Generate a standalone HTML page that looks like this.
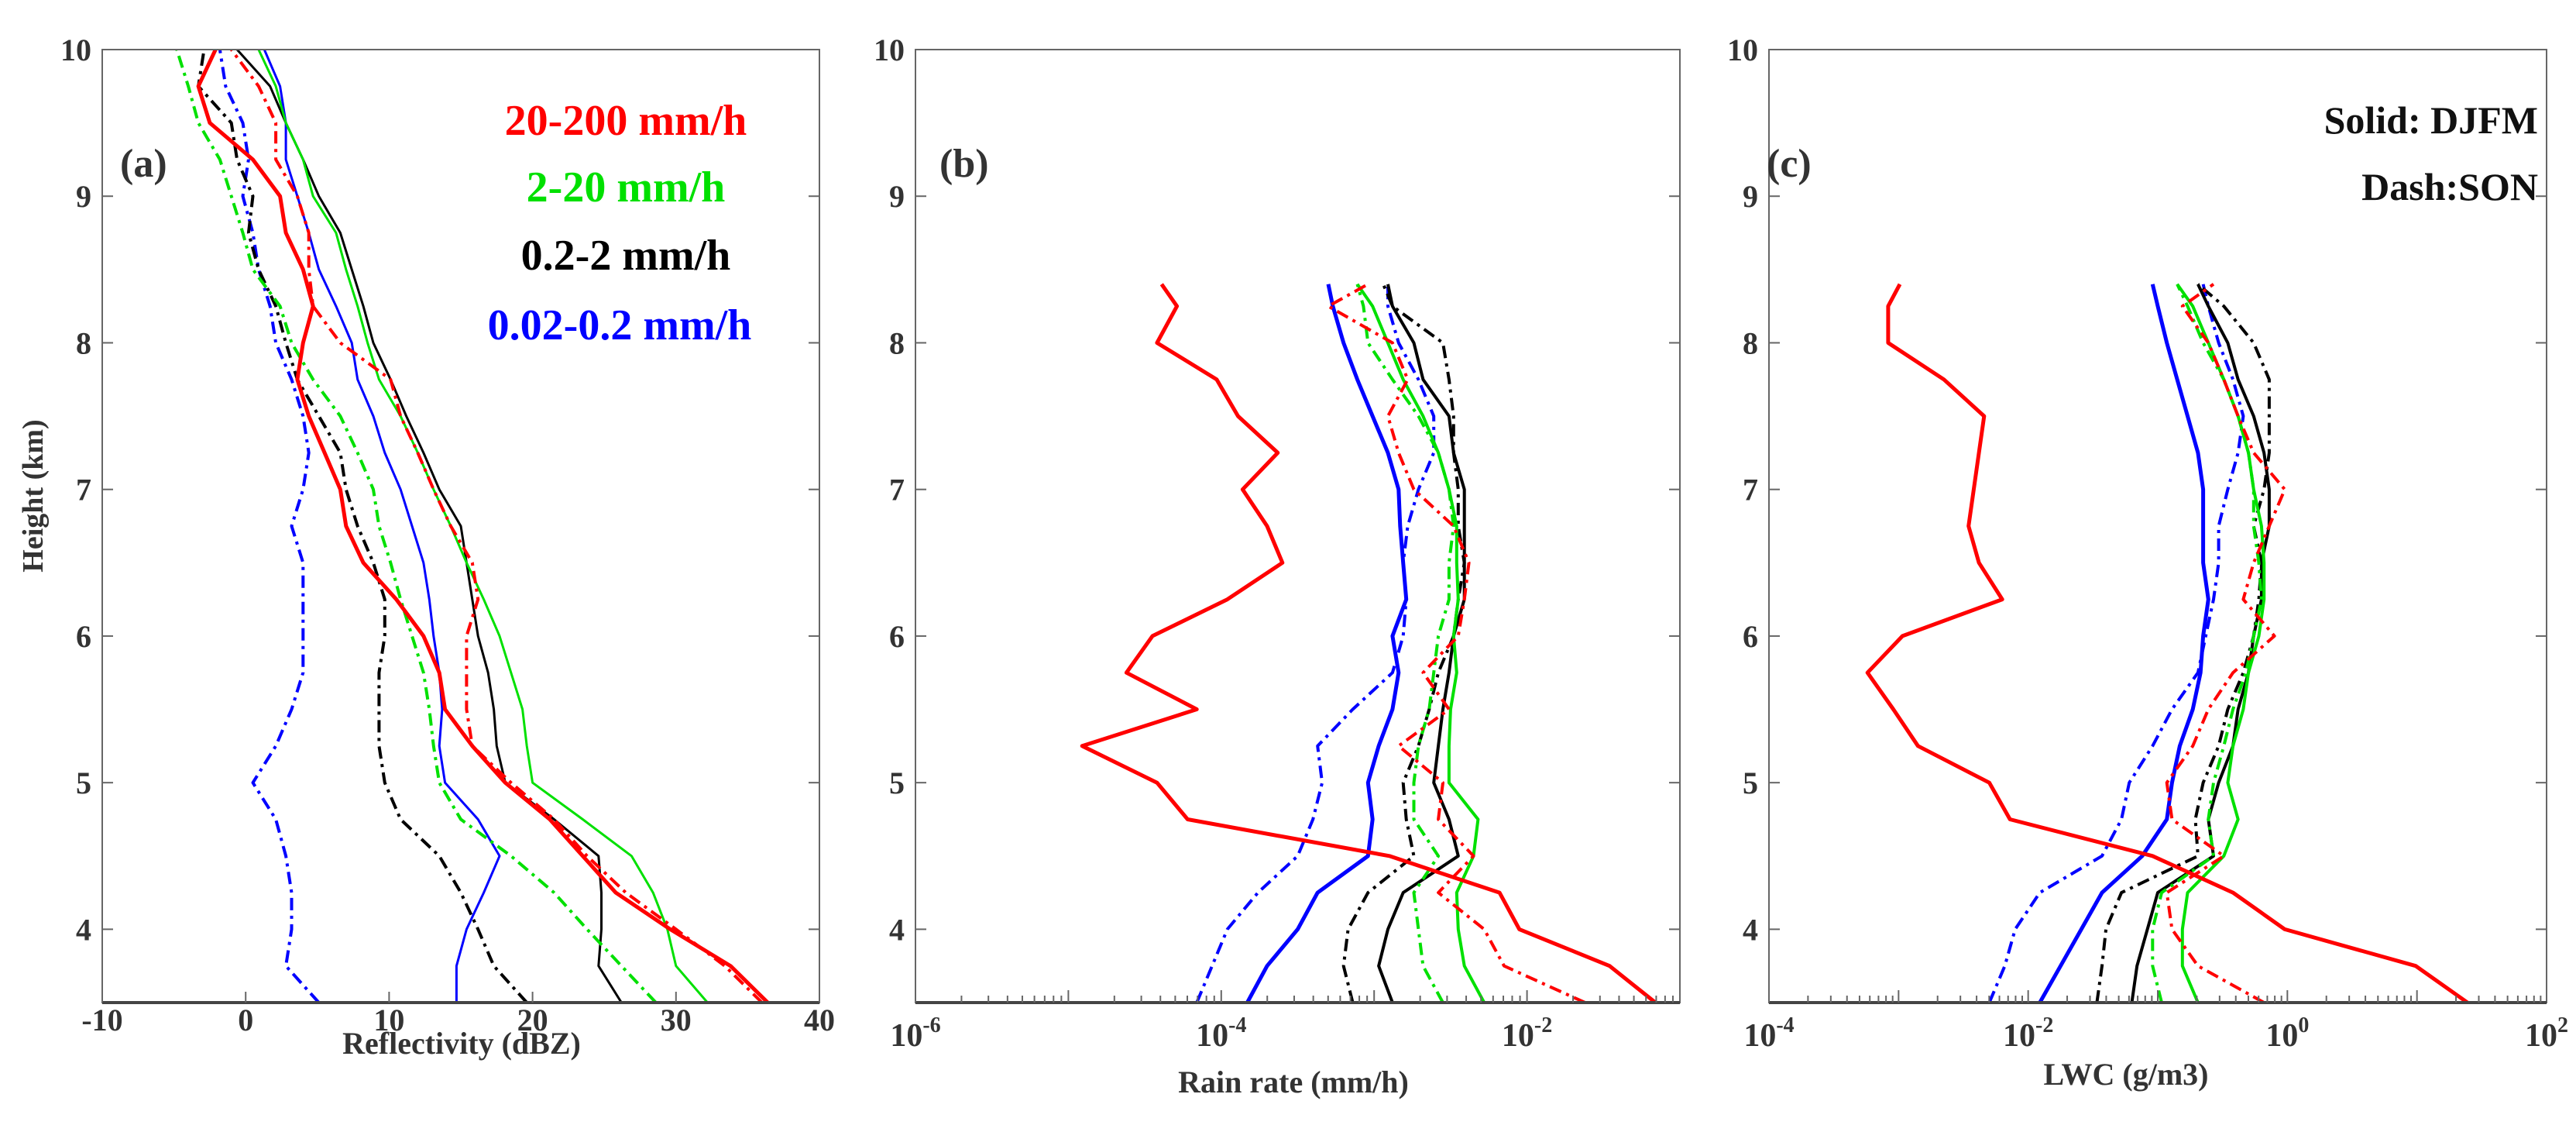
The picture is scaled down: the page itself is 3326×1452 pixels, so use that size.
<!DOCTYPE html>
<html><head><meta charset="utf-8"><style>
html,body{margin:0;padding:0;background:#fff;}
svg{display:block;}
text{font-family:"Liberation Serif","DejaVu Serif",serif;font-weight:bold;fill:#333;}
</style></head><body>
<svg id="fig" width="3326" height="1452" viewBox="0 0 3326 1452" xmlns="http://www.w3.org/2000/svg">
<g id="pa"></g>
<g id="pb"></g>
<g id="pc"></g>
<text x="155" y="228" font-size="52">(a)</text>
<text x="1213" y="228" font-size="52">(b)</text>
<text x="2281" y="228" font-size="52">(c)</text>
<g font-size="56" text-anchor="middle">
<text x="808" y="174" style="fill:#ff0000">20-200 mm/h</text>
<text x="808" y="260" style="fill:#00e000">2-20 mm/h</text>
<text x="808" y="348" style="fill:#000">0.2-2 mm/h</text>
<text x="800" y="438" style="fill:#0000ff">0.02-0.2 mm/h</text>
</g>
<text x="3277" y="172" font-size="50" text-anchor="end" style="fill:#111">Solid: DJFM</text>
<text x="3277" y="258" font-size="50" text-anchor="end" style="fill:#111">Dash:SON</text>
<text transform="translate(55,640) rotate(-90)" font-size="38" text-anchor="middle">Height (km)</text>
<text x="596" y="1360" font-size="40" text-anchor="middle">Reflectivity (dBZ)</text>
<text x="1670" y="1410" font-size="40" text-anchor="middle">Rain rate (mm/h)</text>
<text x="2745" y="1400" font-size="40" text-anchor="middle">LWC (g/m3)</text>
</svg>
<script>
// ---------- data ----------
const heightsA = [3.5,3.75,4,4.25,4.5,4.75,5,5.25,5.5,5.75,6,6.25,6.5,6.75,7,7.25,7.5,7.75,8,8.25,8.5,8.75,9,9.25,9.5,9.75,10];
const heightsBC = [3.5,3.75,4,4.25,4.5,4.75,5,5.25,5.5,5.75,6,6.25,6.5,6.75,7,7.25,7.5,7.75,8,8.25,8.4];
const yTicks = [4,5,6,7,8,9,10];
const xTicksA = [-10,0,10,20,30,40];
const xTicksB = [-6,-4,-2];
const xTicksC = [-4,-2,0,2];
// panel a: reflectivity (dBZ)
const refRedSolid = [36.4,33.8,29.6,25.8,23.5,21.2,18.1,15.8,13.9,13.5,12.4,10.5,8.2,7.0,6.6,5.5,4.4,3.6,4.0,4.7,4.0,2.8,2.4,0.5,-2.5,-3.3,-2.1];
const refRedDash = [36,33.4,30,26.5,23.8,21.5,18.5,15.8,15.4,15.4,15.4,16.2,15.8,14.3,13.1,12,10.8,10.1,6.6,4.7,4.4,4.4,3.6,2.1,2.1,0.9,-1];
const refBlackSolid = [26.2,24.6,24.8,24.8,24.6,21.5,18.1,17.5,17.3,16.9,16.2,15.8,15.4,15,13.5,12.4,11.2,10.1,8.9,8.2,7.4,6.6,5.1,4,2.8,1.7,-0.6];
const refBlackDash = [19.6,17.3,16.2,15,13.5,10.8,9.7,9.3,9.3,9.3,9.7,9.7,8.9,7.8,7.0,6.6,5.1,3.6,2.8,2.1,0.9,0.2,0.5,-0.6,-1,-3.3,-2.9];
const refGreenSolid = [32.2,30,29.4,28.4,26.9,23.5,20,19.6,19.3,18.5,17.7,16.6,15.4,14.3,13.1,12,10.8,9.3,8.5,7.8,7.0,6.3,4.7,4,2.8,2.1,0.9];
const refGreenDash = [28.6,26.2,23.8,21.5,18.5,15,13.5,13.1,12.8,12.4,11.6,10.8,10.1,9.3,8.9,7.8,6.6,4.7,3.2,2.4,0.5,-0.2,-1,-1.8,-3.3,-4,-4.8];
const refBlueSolid = [14.7,14.7,15.4,16.6,17.7,16.2,13.9,13.5,13.7,13.5,13.1,12.8,12.4,11.6,10.8,9.7,8.9,7.8,7.4,6.3,5.1,4.4,3.6,2.8,2.8,2.4,1.3];
const refBlueDash = [5.1,2.8,3.2,3.2,2.8,2.1,0.5,2.1,3.2,4,4,4,4,3.2,4,4.4,4,3.2,2.1,1.7,0.9,0.5,-0.2,0.2,-0.2,-1.4,-1.8];
// panel b: log10 rain rate (mm/h)
const rrRedSolid = [-1.16,-1.46,-2.05,-2.18,-2.9,-4.22,-4.42,-4.91,-4.16,-4.62,-4.45,-3.96,-3.6,-3.7,-3.86,-3.63,-3.89,-4.03,-4.42,-4.29,-4.39];
const rrRedDash = [-1.62,-2.15,-2.28,-2.58,-2.35,-2.58,-2.55,-2.84,-2.51,-2.68,-2.45,-2.41,-2.38,-2.48,-2.74,-2.84,-2.91,-2.78,-2.88,-3.3,-3.04];
const rrBlackSolid = [-2.88,-2.97,-2.91,-2.81,-2.45,-2.51,-2.61,-2.58,-2.55,-2.51,-2.48,-2.41,-2.41,-2.41,-2.41,-2.48,-2.51,-2.68,-2.74,-2.88,-2.91];
const rrBlackDash = [-3.14,-3.2,-3.17,-3.04,-2.74,-2.79,-2.81,-2.71,-2.64,-2.58,-2.48,-2.45,-2.41,-2.45,-2.45,-2.48,-2.48,-2.51,-2.55,-2.88,-2.94];
const rrGreenSolid = [-2.28,-2.41,-2.45,-2.46,-2.35,-2.32,-2.51,-2.51,-2.5,-2.46,-2.48,-2.45,-2.46,-2.46,-2.51,-2.58,-2.68,-2.81,-2.91,-3.01,-3.11];
const rrGreenDash = [-2.55,-2.68,-2.71,-2.74,-2.58,-2.74,-2.74,-2.71,-2.64,-2.61,-2.58,-2.51,-2.51,-2.48,-2.51,-2.58,-2.71,-2.88,-3.04,-3.07,-3.11];
const rrBlueSolid = [-3.83,-3.7,-3.5,-3.37,-3.04,-3.01,-3.04,-2.97,-2.88,-2.84,-2.88,-2.79,-2.81,-2.83,-2.84,-2.91,-3.01,-3.11,-3.2,-3.27,-3.3];
const rrBlueDash = [-4.16,-4.06,-3.96,-3.76,-3.5,-3.4,-3.34,-3.37,-3.14,-2.88,-2.81,-2.79,-2.81,-2.78,-2.71,-2.61,-2.61,-2.71,-2.84,-2.91,-2.91];
// panel c: log10 LWC (g/m3)
const lwcRedSolid = [1.39,0.99,-0.02,-0.42,-1.04,-2.14,-2.3,-2.85,-3.04,-3.24,-2.97,-2.2,-2.38,-2.46,-2.42,-2.38,-2.34,-2.65,-3.08,-3.08,-2.99];
const lwcRedDash = [-0.18,-0.69,-0.89,-0.93,-0.49,-0.89,-0.93,-0.73,-0.61,-0.42,-0.1,-0.34,-0.26,-0.14,-0.02,-0.26,-0.38,-0.49,-0.61,-0.81,-0.57];
const lwcBlackSolid = [-1.2,-1.16,-1.08,-1.0,-0.57,-0.61,-0.53,-0.42,-0.38,-0.3,-0.26,-0.2,-0.2,-0.14,-0.14,-0.18,-0.26,-0.38,-0.46,-0.61,-0.69];
const lwcBlackDash = [-1.47,-1.43,-1.4,-1.28,-0.69,-0.71,-0.65,-0.53,-0.46,-0.34,-0.26,-0.22,-0.2,-0.26,-0.18,-0.14,-0.14,-0.14,-0.26,-0.49,-0.69];
const lwcGreenSolid = [-0.69,-0.81,-0.81,-0.77,-0.49,-0.38,-0.46,-0.42,-0.34,-0.3,-0.22,-0.18,-0.18,-0.2,-0.26,-0.3,-0.38,-0.49,-0.61,-0.73,-0.85];
const lwcGreenDash = [-0.97,-1.04,-1.04,-0.97,-0.57,-0.61,-0.57,-0.49,-0.42,-0.32,-0.26,-0.2,-0.22,-0.26,-0.26,-0.3,-0.38,-0.49,-0.65,-0.77,-0.85];
const lwcBlueSolid = [-1.91,-1.75,-1.59,-1.43,-1.12,-0.93,-0.89,-0.83,-0.73,-0.67,-0.65,-0.61,-0.65,-0.65,-0.65,-0.69,-0.77,-0.85,-0.93,-1.0,-1.04];
const lwcBlueDash = [-2.3,-2.18,-2.1,-1.91,-1.43,-1.28,-1.22,-1.04,-0.89,-0.69,-0.63,-0.57,-0.53,-0.53,-0.46,-0.38,-0.34,-0.42,-0.53,-0.61,-0.65];

// ---------- drawing ----------
const NS = "http://www.w3.org/2000/svg";
const TOP = 64, BOT = 1294, HMIN = 3.5, HMAX = 10;
function yScale(h){ return BOT - (h - HMIN) / (HMAX - HMIN) * (BOT - TOP); }
function mk(tag, attrs, parent){
  const e = document.createElementNS(NS, tag);
  for (const k in attrs) e.setAttribute(k, attrs[k]);
  parent.appendChild(e);
  return e;
}
const COLORS = {red:"#ff0000", green:"#00e000", black:"#000000", blue:"#0000ff"};
function drawPanel(g, L, R, xmin, xmax, isLog, ticks, series, heights, prefix){
  const xScale = v => L + (v - xmin) / (xmax - xmin) * (R - L);
  const clip = mk("clipPath", {id: prefix + "-clip"}, g);
  mk("rect", {x: L, y: TOP, width: R - L, height: BOT - TOP}, clip);
  const lines = mk("g", {"clip-path": "url(#" + prefix + "-clip)"}, g);
  series.forEach(s => {
    const pts = s.vals.map((v, i) => xScale(v).toFixed(1) + "," + yScale(heights[i]).toFixed(1)).join(" ");
    const p = mk("polyline", {points: pts, fill: "none", stroke: COLORS[s.color],
      "stroke-width": s.w, "stroke-linejoin": "round"}, lines);
    if (s.dash) p.setAttribute("stroke-dasharray", "16 7 4 7");
    
    
  });
  // frame
  const fr = mk("rect", {x: L, y: TOP, width: R - L, height: BOT - TOP, fill: "none", stroke: "#666", "stroke-width": 2}, g);
  
  
  mk("line", {x1: L, y1: BOT, x2: R, y2: BOT, stroke: "#444", "stroke-width": 4}, g);
  // y ticks
  yTicks.forEach(t => {
    const y = yScale(t);
    mk("line", {x1: L, y1: y, x2: L + 14, y2: y, stroke: "#666", "stroke-width": 2}, g);
    mk("line", {x1: R - 14, y1: y, x2: R, y2: y, stroke: "#666", "stroke-width": 2}, g);
    const tx = mk("text", {x: L - 14, y: y + 14, "font-size": 40, "text-anchor": "end"}, g);
    tx.textContent = String(t);
    
    
  });
  // x ticks
  if (!isLog){
    ticks.forEach(t => {
      const x = xScale(t);
      mk("line", {x1: x, y1: BOT, x2: x, y2: BOT - 14, stroke: "#666", "stroke-width": 2}, g);
      const tx = mk("text", {x: x, y: 1330, "font-size": 40, "text-anchor": "middle"}, g);
      tx.textContent = String(t);
      
      
    });
  } else {
    for (let d = xmin; d < xmax; d++){
      for (let m = 1; m <= 9; m++){
        const x = xScale(d + Math.log10(m));
        mk("line", {x1: x, y1: BOT, x2: x, y2: BOT - (m === 1 ? 16 : 9), stroke: "#666", "stroke-width": 2}, g);
      }
    }
    ticks.forEach(t => {
      const x = xScale(t);
      const tx = mk("text", {x: x, y: 1350, "font-size": 42, "text-anchor": "middle"}, g);
      
      
      const a = mk("tspan", {}, tx); a.textContent = "10";
      const b = mk("tspan", {dy: -18, "font-size": 28}, tx); b.textContent = String(t);
    });
  }
}
function S(name, color, vals, w, dash){ return {name, color, vals, w, dash}; }
drawPanel(document.getElementById("pa"), 132, 1058, -10, 40, false, xTicksA, [
  S("blue-dash","blue",refBlueDash,4,true), S("blue-solid","blue",refBlueSolid,3,false),
  S("black-dash","black",refBlackDash,4,true), S("black-solid","black",refBlackSolid,3,false),
  S("green-dash","green",refGreenDash,4,true), S("green-solid","green",refGreenSolid,3,false),
  S("red-dash","red",refRedDash,4,true), S("red-solid","red",refRedSolid,5,false)
], heightsA, "a");
drawPanel(document.getElementById("pb"), 1182, 2169, -6, -1, true, xTicksB, [
  S("blue-dash","blue",rrBlueDash,4,true), S("blue-solid","blue",rrBlueSolid,5,false),
  S("black-dash","black",rrBlackDash,4,true), S("black-solid","black",rrBlackSolid,4,false),
  S("green-dash","green",rrGreenDash,4,true), S("green-solid","green",rrGreenSolid,4,false),
  S("red-dash","red",rrRedDash,4,true), S("red-solid","red",rrRedSolid,5,false)
], heightsBC, "b");
drawPanel(document.getElementById("pc"), 2284, 3288, -4, 2, true, xTicksC, [
  S("blue-dash","blue",lwcBlueDash,4,true), S("blue-solid","blue",lwcBlueSolid,5,false),
  S("black-dash","black",lwcBlackDash,4,true), S("black-solid","black",lwcBlackSolid,4,false),
  S("green-dash","green",lwcGreenDash,4,true), S("green-solid","green",lwcGreenSolid,4,false),
  S("red-dash","red",lwcRedDash,4,true), S("red-solid","red",lwcRedSolid,5,false)
], heightsBC, "c");
</script>
</body></html>
